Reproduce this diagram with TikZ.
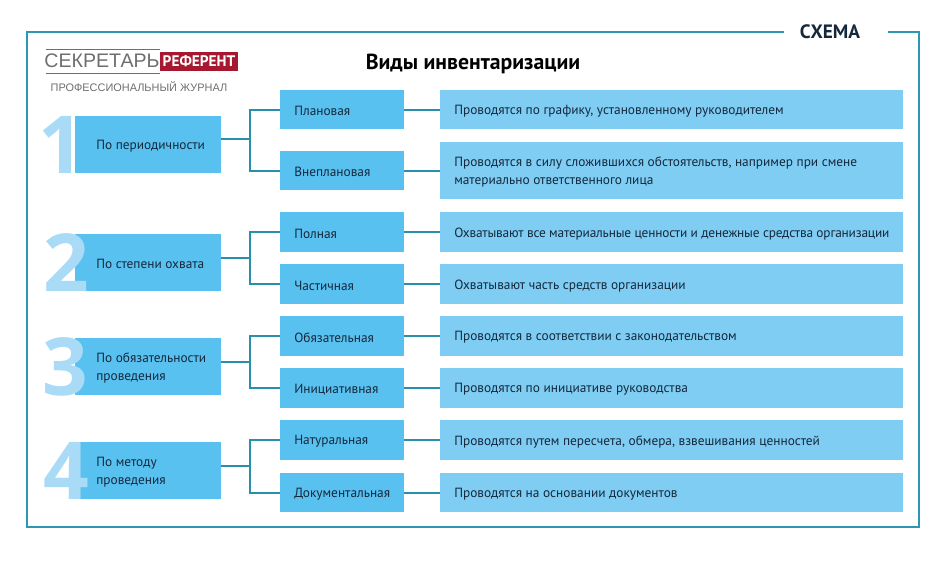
\documentclass[tikz,border=0pt]{standalone}
\usepackage{fontspec}
\setmainfont{PT Sans}
\newfontfamily\logofont{Liberation Sans}
\newfontfamily\digitfont{Open Sans}
\definecolor{framecol}{HTML}{2F97B3}
\definecolor{linkcol}{HTML}{2A8FAD}
\definecolor{boxcol}{HTML}{59C1F0}
\definecolor{desccol}{HTML}{7FCDF3}
\definecolor{digitcol}{HTML}{A9DAF6}
\definecolor{inkcol}{HTML}{14283C}
\definecolor{logored}{HTML}{A5182F}
\definecolor{logogray}{HTML}{6E6E70}
\tikzset{
  mainbox/.style={fill=boxcol, minimum width=109.5pt, inner sep=0pt},
  midbox/.style={fill=boxcol, minimum width=93pt, inner sep=0pt},
  descbox/.style={fill=desccol, minimum width=347.25pt, inner sep=0pt},
  boxtext/.style={text=inkcol, font=\fontsize{10}{13.5}\selectfont, align=left, anchor=west, inner sep=0pt, yshift=-1.2pt},
  digit/.style={text=digitcol, font=\digitfont\fontsize{60}{60}\selectfont\bfseries, inner sep=0pt},
  link/.style={draw=linkcol, line width=1.5pt}
}
\begin{document}
\begin{tikzpicture}[x=0.75pt, y=-0.75pt]
\useasboundingbox (0,0) rectangle (952,565);
% Outer frame with a gap for the caption
\coordinate (gapleft) at (784,32);
\coordinate (gapright) at (888,32);
\draw[framecol, line width=1.5pt] (gapleft) -- (27,32) -- (27,527) -- (919,527) -- (919,32) -- (gapright);
\node[text=inkcol, font=\fontsize{14.5}{14.5}\selectfont\bfseries, inner sep=0pt] (caption) at (830,31.5) {СХЕМА};
\node[text=black, font=\fontsize{16.3}{16.3}\selectfont\bfseries, inner sep=0pt] (title) at (473,63.5) {Виды инвентаризации};

% Logo
\node[fill=logored, text=white, minimum width=58.5pt, minimum height=14.25pt, inner sep=0pt, font=\fontsize{11.5}{11.5}\selectfont\bfseries] (logored) at (199,61.5) {РЕФЕРЕНТ};
\node[text=logogray, font=\logofont\fontsize{14.7}{14.7}\selectfont, inner sep=0pt] (logoname) at (102,61) {СЕКРЕТАРЬ};
\draw[logogray, line width=0.6pt] (46,49.5) -- (160,49.5);
\draw[logogray, line width=0.6pt] (46,73) -- (160,73);
\node[text=logogray, font=\logofont\fontsize{8.2}{8.2}\selectfont, inner sep=0pt] (logosub) at (139,87) {ПРОФЕССИОНАЛЬНЫЙ ЖУРНАЛ};

% Rows: middle box and its description
\foreach \r/\ycen/\hmid/\hdesc/\kind/\desc in {
  1/109.5/39/39/Плановая/{Проводятся по графику, установленному руководителем},
  2/170.5/39/57/Внеплановая/{Проводятся в силу сложившихся обстоятельств, например при смене\\материально ответственного лица},
  3/232/40/40/Полная/{\addfontfeature{LetterSpace=-1.3}Охватывают все материальные ценности и денежные средства организации},
  4/284/40/40/Частичная/{Охватывают часть средств организации},
  5/336/40/40/Обязательная/{Проводятся в соответствии с законодательством},
  6/388/40/40/Инициативная/{Проводятся по инициативе руководства},
  7/440/40/40/Натуральная/{Проводятся путем пересчета, обмера, взвешивания ценностей},
  8/492.5/39/39/Документальная/{Проводятся на основании документов}} {
    \node[midbox, minimum height=\hmid*0.75pt] (mid\r) at (342,\ycen) {};
    \node[boxtext] (midtext\r) at (294,\ycen) {\kind};
    \node[descbox, minimum height=\hdesc*0.75pt] (desc\r) at (671.5,\ycen) {};
    \node[boxtext] (desctext\r) at (454,\ycen) {\desc};
    \draw[link] (mid\r.east) -- (desc\r.west);
}

% Groups: number, main box and the fork to two rows
\foreach \i/\ycen/\yfork/\a/\b/\xdigit/\label in {
  1/144.5/139/1/2/61.5/{По периодичности},
  2/262.5/258/3/4/66/{По степени охвата},
  3/366.5/362/5/6/65/{По обязательности\\проведения},
  4/470.5/466/7/8/66/{По методу\\проведения}} {
    \node[mainbox, minimum height=42.75pt] (main\i) at (148,\ycen) {};
    \node[digit] (digit\i) at (\xdigit,\ycen) {\i};
    \node[boxtext] (maintext\i) at (96,\ycen) {\label};
    \coordinate (fork\i) at (250,\yfork);
    \draw[link] (fork\i -| main\i.east) -- (fork\i);
    \draw[link] (mid\a.west) -| (fork\i) |- (mid\b.west);
}
\end{tikzpicture}
\end{document}
